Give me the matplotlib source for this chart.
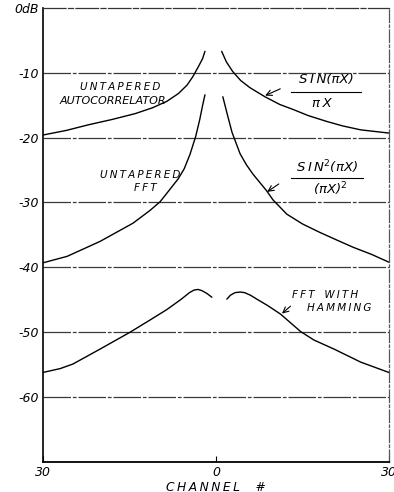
import matplotlib
matplotlib.use("Agg")
import matplotlib.pyplot as plt
import numpy as np

# ---- data (channel #, dB) ----
auto_left_ch = [-30, -26, -22, -18, -14, -11, -8.5, -6.5, -5.0, -4.0, -3.0, -2.3, -1.9]
auto_left_db = [-19.6, -18.9, -18.0, -17.2, -16.3, -15.4, -14.4, -13.2, -11.9, -10.6, -9.0, -7.8, -6.7]
auto_right_ch = [1.0, 1.8, 2.9, 4.3, 5.9, 8.5, 11.1, 13.5, 16, 19.2, 22, 25.1, 30]
auto_right_db = [-6.7, -8.3, -9.8, -11.2, -12.3, -13.7, -14.9, -15.7, -16.6, -17.5, -18.2, -18.8, -19.3]

fft_left_ch = [-30, -25.8, -20.1, -14.4, -11.4, -9.7, -8.0, -6.5, -5.5, -4.5, -3.5, -2.8, -2.3, -1.9]
fft_left_db = [-39.3, -38.3, -36.0, -33.2, -31.2, -29.9, -28.0, -26.3, -24.8, -22.6, -19.8, -17.2, -15.0, -13.4]
fft_right_ch = [1.2, 2.0, 2.8, 4.2, 5.3, 6.4, 8.8, 9.9, 12.3, 15, 18.0, 21, 23.8, 27, 30]
fft_right_db = [-13.7, -16.5, -19.2, -22.5, -24.2, -25.6, -28.2, -29.6, -31.8, -33.3, -34.6, -35.8, -36.9, -38.0, -39.2]

ham_left_ch = [-30, -27, -24.8, -20.1, -14.9, -11.4, -8.5, -6.0, -4.6, -3.8, -3.1, -2.4, -1.6, -0.7]
ham_left_db = [-56.2, -55.6, -54.9, -52.6, -50.0, -48.1, -46.5, -44.9, -43.9, -43.5, -43.4, -43.6, -44.0, -44.6]
ham_right_ch = [1.9, 2.5, 3.3, 4.2, 5.0, 6.0, 7.1, 9.0, 11.2, 14.7, 17, 20.5, 25.1, 30]
ham_right_db = [-44.9, -44.3, -43.9, -43.8, -43.9, -44.3, -44.9, -45.9, -47.2, -49.9, -51.2, -52.6, -54.6, -56.2]

ytick_vals = [0, -10, -20, -30, -40, -50, -60]
ytick_labels = ["0dB", "-10", "-20", "-30", "-40", "-50", "-60"]
xtick_vals = [-30, 0, 30]
xtick_labels = ["30", "0", "30"]

# ---- figure ----
fig = plt.figure(figsize=(3.94, 4.92), dpi=100)
ax = fig.add_axes([0.109, 0.061, 0.878, 0.923])
ax.set_xlim(-30, 30)
ax.set_ylim(-70, 0)

hand = dict(fontstyle="italic", family="DejaVu Sans", color="black")
ts = "\u2009"  # thin space for hand-lettered spacing


def spaced(s):
    return ts.join(s)


for y in ytick_vals[1:]:
    ax.axhline(y, color="#3a3a3a", lw=0.9, ls=(0, (22, 1.5, 3, 1.5)), zorder=1)

lw = 1.0
for xs, ys in [(auto_left_ch, auto_left_db), (auto_right_ch, auto_right_db),
               (fft_left_ch, fft_left_db), (fft_right_ch, fft_right_db),
               (ham_left_ch, ham_left_db), (ham_right_ch, ham_right_db)]:
    ax.plot(xs, ys, color="black", lw=lw, zorder=3, solid_capstyle="round",
            solid_joinstyle="round")

# spines
ax.spines["left"].set_linewidth(1.2)
ax.spines["bottom"].set_linewidth(1.3)
ax.spines["top"].set_linestyle((0, (18, 2, 4, 2)))
ax.spines["top"].set_color("#333333")
ax.spines["top"].set_linewidth(0.9)
ax.spines["right"].set_linestyle((0, (10, 2, 2, 2)))
ax.spines["right"].set_color("#555555")
ax.spines["right"].set_linewidth(0.9)

ax.set_yticks(ytick_vals)
ax.set_yticklabels(ytick_labels, **hand, fontsize=9)
ax.tick_params(axis="y", length=0, pad=3)
ax.set_xticks(xtick_vals)
ax.set_xticklabels(xtick_labels, **hand, fontsize=9)
ax.tick_params(axis="x", direction="in", length=4, pad=3)
ax.set_xlabel(spaced("CHANNEL") + "    #", **hand, fontsize=8.8, labelpad=1)

# annotations
fs = 7.5
ax.text(-16.6, -12.2, spaced("UNTAPERED"), ha="center", va="center", fontsize=fs, **hand)
ax.text(-17.9, -14.3, "AUTOCORRELATOR", ha="center", va="center", fontsize=8, **hand)
ax.text(-13.2, -25.7, spaced("UNTAPERED"), ha="center", va="center", fontsize=fs, **hand)
ax.text(-12.3, -27.8, spaced("FFT"), ha="center", va="center", fontsize=fs, **hand)

ax.text(19.1, -11.1, spaced("SIN") + "(\u03c0X)", ha="center", va="center", fontsize=9.5, **hand)
ax.plot([13.0, 25.1], [-12.9, -12.9], color="black", lw=0.8)
ax.text(18.4, -14.7, "\u03c0" + ts + "X", ha="center", va="center", fontsize=9.5, **hand)
ax.annotate("", xy=(8.1, -13.7), xytext=(11.6, -12.3),
            arrowprops=dict(arrowstyle="->", lw=0.8, color="black"))

ax.text(19.2, -24.5, spaced("SIN") + "$^2$(\u03c0X)", ha="center", va="center", fontsize=9.5, **hand)
ax.plot([13.0, 25.5], [-26.2, -26.2], color="black", lw=0.8)
ax.text(19.9, -27.9, "(\u03c0X)$^2$", ha="center", va="center", fontsize=9.5, **hand)
ax.annotate("", xy=(8.5, -28.6), xytext=(11.3, -26.9),
            arrowprops=dict(arrowstyle="->", lw=0.8, color="black"))

ax.text(18.9, -44.2, spaced("FFT") + "   " + spaced("WITH"), ha="center", va="center", fontsize=7.5, **hand)
ax.text(21.3, -46.3, spaced("HAMMING"), ha="center", va="center", fontsize=7.5, **hand)
ax.annotate("", xy=(11.1, -47.4), xytext=(13.3, -45.7),
            arrowprops=dict(arrowstyle="->", lw=0.8, color="black"))

fig.savefig("out.png", dpi=100)
